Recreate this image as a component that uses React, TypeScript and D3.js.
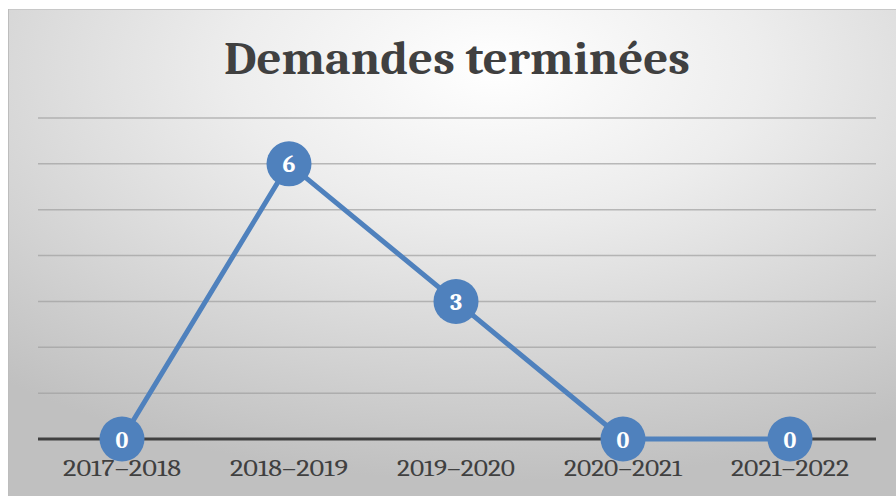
import React from "react";
import * as d3 from "d3";

const categories = ["2017–2018", "2018–2019", "2019–2020", "2020–2021", "2021–2022"];
const values = [0, 6, 3, 0, 0];
const yTicks = [0, 1, 2, 3, 4, 5, 6, 7];
const title = "Demandes terminées";

export default function App() {
  const W = 896, H = 496;
  const x = d3.scalePoint<string>().domain(categories).range([122, 790]);
  const y = d3.scaleLinear().domain([0, 7]).range([439, 118]);
  const line = d3.line<number>().x((_, i) => x(categories[i])!).y((d) => y(d));
  const serif = "Cambria, 'Liberation Serif', 'DejaVu Serif', serif";
  return (
    <svg width={W} height={H} style={{ position: "absolute", left: 0, top: 0 }}>
      <defs>
        <radialGradient id="bg" cx="0.55" cy="0.12" r="0.85" gradientUnits="objectBoundingBox">
          <stop offset="0" stopColor="#ffffff" />
          <stop offset="0.35" stopColor="#ededed" />
          <stop offset="1" stopColor="#c0c0c0" />
        </radialGradient>
      </defs>
      <rect x={0} y={0} width={W} height={H} fill="#ffffff" />
      <rect x={8} y={9} width={W - 8} height={H - 9} fill="url(#bg)" />
      <line x1={8} x2={W} y1={9.5} y2={9.5} stroke="#c8c8c8" strokeWidth={1} />
      <line x1={8.5} x2={8.5} y1={9} y2={H} stroke="#bdbdbd" strokeWidth={1} />
      <text x={457} y={74} textAnchor="middle" fontFamily={serif} fontWeight="bold" fontSize={46} fill="#404040" textLength={466} lengthAdjust="spacingAndGlyphs">
        {title}
      </text>
      {yTicks.filter((t) => t > 0).map((t) => (
        <line key={t} x1={38} x2={876} y1={y(t)} y2={y(t)} stroke="#a0a0a0" strokeOpacity={0.7} strokeWidth={1.5} />
      ))}
      <line x1={38} x2={876} y1={y(0)} y2={y(0)} stroke="#404040" strokeWidth={3} />
      {categories.map((c) => (
        <text key={c} x={x(c)!} y={476} textAnchor="middle" fontFamily={serif} fontSize={23} fill="#404040" textLength={118} lengthAdjust="spacingAndGlyphs">
          {c}
        </text>
      ))}
      <path d={line(values)!} fill="none" stroke="#4f81bd" strokeWidth={5} strokeLinejoin="round" />
      {values.map((v, i) => (
        <g key={i}>
          <circle cx={x(categories[i])!} cy={y(v)} r={22.5} fill="#4f81bd" />
          <text x={x(categories[i])!} y={y(v) + 8.5} textAnchor="middle" fontFamily={serif} fontWeight="bold" fontSize={24} fill="#ffffff">
            {v}
          </text>
        </g>
      ))}
    </svg>
  );
}
